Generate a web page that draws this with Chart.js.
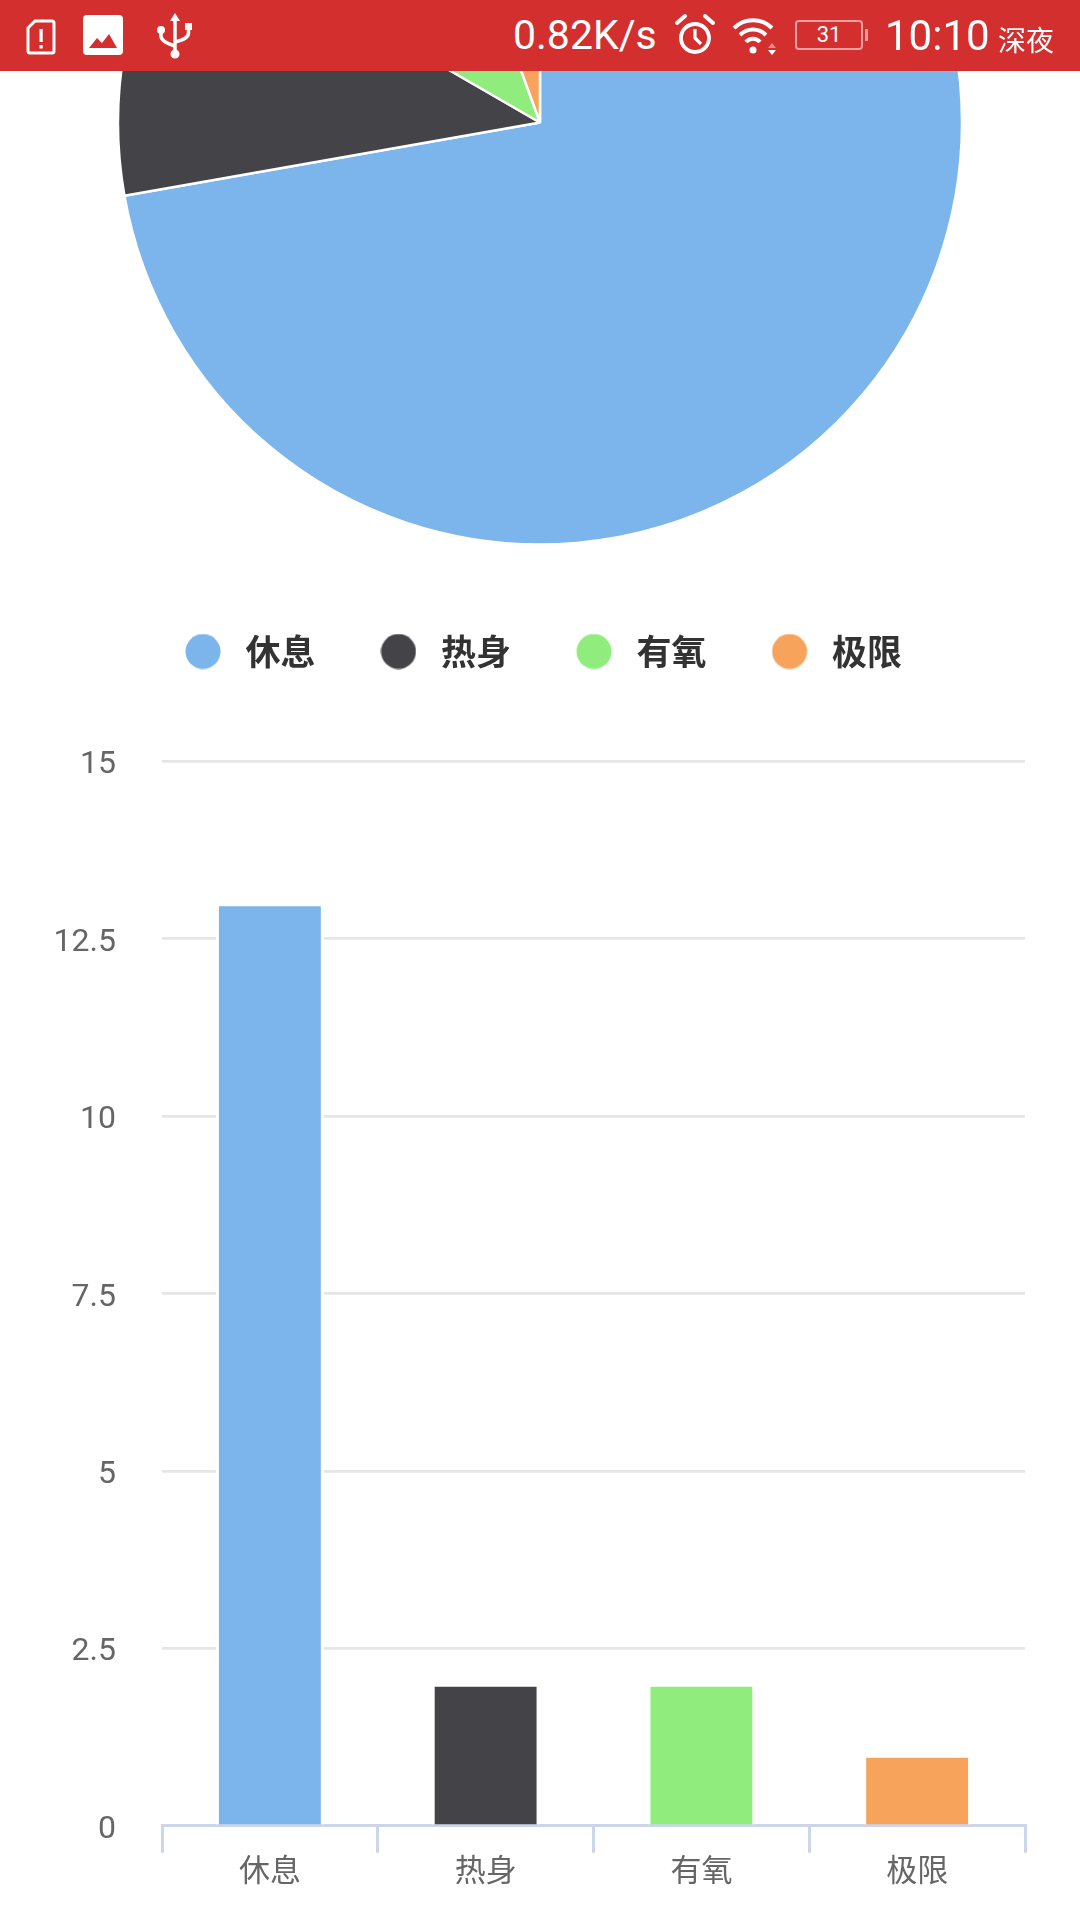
<!DOCTYPE html>
<html>
<head>
<meta charset="utf-8">
<script src="https://cdn.jsdelivr.net/npm/chart.js@4.4.1/dist/chart.umd.min.js"></script>
<style>
  html, body { margin: 0; padding: 0; background: #fff; width: 1080px; height: 1920px; overflow: hidden; position: relative; }
  #status { position: absolute; left: 0; top: 0; width: 1080px; height: 71px; background: #d32f2f; z-index: 10; color: #fff; font-family: Roboto, sans-serif; }
  #status .it { position: absolute; }
  #status .txt { top: 0; height: 71px; line-height: 71px; white-space: nowrap; }
  #battery { left: 795px; top: 20px; width: 64px; height: 26px; border: 2px solid rgba(255,255,255,0.55); border-radius: 4px; font-size: 22px; line-height: 26px; text-align: center; }
  #battery:after { content: ""; position: absolute; right: -7px; top: 7px; width: 3px; height: 12px; background: rgba(255,255,255,0.55); }
  #pieBox { position: absolute; left: 0; top: -331.5px; width: 1080px; height: 1010px; }
  #barBox { position: absolute; left: 0; top: 696px; width: 1080px; height: 1224px; }
</style>
</head>
<body>
<div id="status">
  <svg class="it" style="left:25px;top:18px" width="32" height="38" viewBox="0 0 32 38">
    <path d="M10 3 H27 a2 2 0 0 1 2 2 V33 a2 2 0 0 1 -2 2 H5 a2 2 0 0 1 -2 -2 V10 Z" fill="none" stroke="#fff" stroke-width="3"/>
    <rect x="14.5" y="11" width="3.2" height="13" fill="#fff"/>
    <rect x="14.5" y="27" width="3.2" height="3.5" fill="#fff"/>
  </svg>
  <svg class="it" style="left:83px;top:15px" width="40" height="40" viewBox="0 0 40 40">
    <rect x="0" y="0" width="40" height="40" rx="4" fill="#fff"/>
    <polygon points="6,33 14,23 19,28 26,19 34,33" fill="#d32f2f"/>
  </svg>
  <svg class="it" style="left:156px;top:12px" width="38" height="48" viewBox="0 0 38 48">
    <polygon points="19,1 14,9 24,9" fill="#fff"/>
    <line x1="19" y1="8" x2="19" y2="40" stroke="#fff" stroke-width="3.5"/>
    <circle cx="19" cy="42" r="4.5" fill="#fff"/>
    <circle cx="5" cy="18" r="4" fill="#fff"/>
    <path d="M5 18 V24 Q5 30 19 34" fill="none" stroke="#fff" stroke-width="3.5"/>
    <rect x="29" y="11" width="7" height="7" fill="#fff"/>
    <path d="M32.5 16 V21 Q32.5 27 19 30" fill="none" stroke="#fff" stroke-width="3.5"/>
  </svg>
  <div class="it txt" style="left:513px;font-size:41px">0.82K/s</div>
  <svg class="it" style="left:674px;top:12px" width="42" height="44" viewBox="0 0 42 44">
    <circle cx="21" cy="26" r="14" fill="none" stroke="#fff" stroke-width="3.8"/>
    <path d="M21 17 V26 L27 32" fill="none" stroke="#fff" stroke-width="3.2"/>
    <path d="M3 11 L11 4" stroke="#fff" stroke-width="4" stroke-linecap="round"/>
    <path d="M39 11 L31 4" stroke="#fff" stroke-width="4" stroke-linecap="round"/>
  </svg>
  <svg class="it" style="left:731px;top:14px" width="50" height="42" viewBox="0 0 50 42">
    <path d="M3 14 A27 27 0 0 1 41 14" fill="none" stroke="#fff" stroke-width="4"/>
    <path d="M9 21 A18 18 0 0 1 35 21" fill="none" stroke="#fff" stroke-width="4"/>
    <path d="M15 28 A9 9 0 0 1 29 28" fill="none" stroke="#fff" stroke-width="4"/>
    <circle cx="22" cy="36" r="3.5" fill="#fff"/>
    <polygon points="41,29 37,34 45,34" fill="#f08a8a"/>
    <polygon points="37,36 45,36 41,41" fill="#fff"/>
  </svg>
  <div id="battery" class="it">31</div>
  <div class="it txt" style="left:885px;font-size:42px">10:10</div>
  <div class="it txt" style="left:998px;font-size:28px;font-family:'Noto Sans CJK SC';padding-top:4px">深夜</div>
</div>

<div id="pieBox"><canvas id="pieChart"></canvas></div>
<div id="barBox"><canvas id="barChart"></canvas></div>

<script>
const categories = ["休息", "热身", "有氧", "极限"];
const counts = [13, 2, 2, 1];
const colors = ["#7cb5ec", "#434348", "#90ed7d", "#f7a35c"];
const yTicks = [0, 2.5, 5, 7.5, 10, 12.5, 15];

// round legend markers, drawn as small canvases so the text gap can be wider
function makeDot(color) {
  const c = document.createElement("canvas");
  c.width = 36;
  c.height = 36;
  const g = c.getContext("2d");
  g.fillStyle = color;
  g.beginPath();
  g.arc(18, 18, 17.5, 0, Math.PI * 2);
  g.fill();
  return c;
}
const dots = colors.map(makeDot);

new Chart(document.getElementById("pieChart"), {
  type: "pie",
  data: {
    labels: categories,
    datasets: [{
      data: counts,
      backgroundColor: colors,
      borderColor: "#fff",
      borderWidth: 2.5,
      radius: 422,
    }],
  },
  options: {
    responsive: true,
    maintainAspectRatio: false,
    animation: false,
    plugins: {
      tooltip: { enabled: false },
      legend: {
        position: "bottom",
        labels: {
          usePointStyle: true,
          pointStyleWidth: 50,
          padding: 58,
          color: "#333333",
          font: { family: "'Noto Sans CJK SC'", size: 35, weight: "bold" },
          generateLabels(chart) {
            const items = Chart.overrides.pie.plugins.legend.labels.generateLabels(chart);
            items.forEach((it, i) => { it.pointStyle = dots[i]; });
            return items;
          },
        },
      },
    },
  },
});

new Chart(document.getElementById("barChart"), {
  type: "bar",
  data: {
    labels: categories,
    datasets: [{
      data: counts,
      backgroundColor: colors,
      borderColor: "#fff",
      borderWidth: 3,
      categoryPercentage: 1,
      barPercentage: 0.5,
    }],
  },
  options: {
    responsive: true,
    maintainAspectRatio: false,
    animation: false,
    layout: { padding: { top: 21, right: 55, bottom: 26, left: 0 } },
    plugins: {
      legend: { display: false },
      tooltip: { enabled: false },
    },
    scales: {
      x: {
        offset: true,
        grid: {
          offset: true,
          drawOnChartArea: false,
          drawTicks: true,
          tickLength: 27,
          color: "#ccd6eb",
          lineWidth: 3,
        },
        border: { display: true, color: "#ccd6eb", width: 3 },
        ticks: {
          color: "#666666",
          padding: 2,
          font: { family: "Roboto, 'Noto Sans CJK SC'", size: 31 },
        },
      },
      y: {
        min: yTicks[0],
        max: yTicks[yTicks.length - 1],
        afterBuildTicks(axis) {
          axis.ticks = yTicks.map(v => ({ value: v }));
        },
        afterFit(axis) {
          axis.width = 162;
        },
        ticks: {
          color: "#666666",
          padding: 46,
          labelOffset: 4,
          font: { family: "Roboto", size: 32 },
        },
        grid: {
          color: ctx => (ctx.tick && ctx.tick.value === 0 ? "rgba(0,0,0,0)" : "#e6e6e6"),
          lineWidth: 2.75,
          drawTicks: false,
        },
        border: { display: false },
      },
    },
  },
});
</script>
</body>
</html>
